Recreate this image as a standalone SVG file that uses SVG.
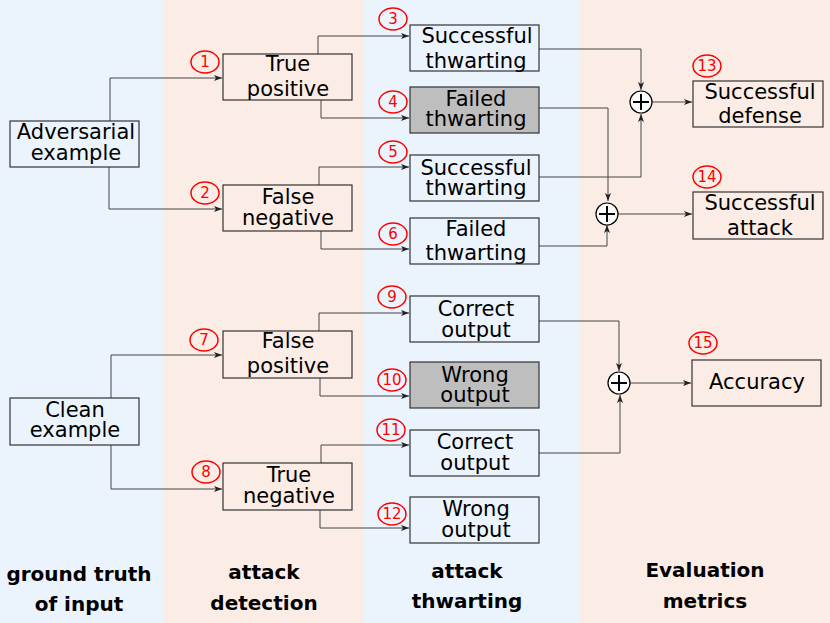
<svg xmlns="http://www.w3.org/2000/svg" width="830" height="623" viewBox="0 0 830 623">
<style>
.bgb{fill:#ebf4fc}
.bgp{fill:#fbede5}
.box{fill:none;stroke:#333;stroke-width:1.2}
.gray{fill:#bebebe;stroke:#333;stroke-width:1.2}
.t{font-family:"DejaVu Sans",sans-serif;font-size:21px;fill:#000;text-anchor:middle}
.n{font-family:"DejaVu Sans",sans-serif;font-size:15px;fill:#f00;text-anchor:middle}
.nc{fill:none;stroke:#f00;stroke-width:1.5}
.c{fill:none;stroke:#444;stroke-width:1}
.plus{fill:#fff;stroke:#000;stroke-width:1.2}
.pl{stroke:#000;stroke-width:2}
.h{font-family:"DejaVu Sans",sans-serif;font-size:20px;font-weight:bold;fill:#000;text-anchor:middle}
</style>
<defs>
<marker id="ar" markerWidth="9" markerHeight="6" refX="8" refY="3" orient="auto" markerUnits="userSpaceOnUse">
<path d="M0,0 L8,3 L0,6 L2,3 z" fill="#222"/>
</marker>
</defs>
<g id="background">
<rect class="bgb" x="0" y="0" width="164" height="623"/>
<rect class="bgp" x="164" y="0" width="200" height="623"/>
<rect class="bgb" x="364" y="0" width="216" height="623"/>
<rect class="bgp" x="580" y="0" width="250" height="623"/>
</g>
<g id="connectors">
<polyline class="c" points="110,121 110,78 222,78" marker-end="url(#ar)"/>
<polyline class="c" points="109,167 109,209 222,209" marker-end="url(#ar)"/>
<polyline class="c" points="318,54 318,36 409,36" marker-end="url(#ar)"/>
<polyline class="c" points="321,100 321,118 409,118" marker-end="url(#ar)"/>
<polyline class="c" points="319,185 319,167 409,167" marker-end="url(#ar)"/>
<polyline class="c" points="321,231 321,249 409,249" marker-end="url(#ar)"/>
<polyline class="c" points="539,49 641,49 641,90" marker-end="url(#ar)"/>
<polyline class="c" points="539,108 608,108 608,201" marker-end="url(#ar)"/>
<polyline class="c" points="539,177 641,177 641,114" marker-end="url(#ar)"/>
<polyline class="c" points="539,246 607,246 607,225" marker-end="url(#ar)"/>
<polyline class="c" points="652,102 692,102" marker-end="url(#ar)"/>
<polyline class="c" points="618,214 692,214" marker-end="url(#ar)"/>
<polyline class="c" points="111,398 111,355 222,355" marker-end="url(#ar)"/>
<polyline class="c" points="111,445 111,489 222,489" marker-end="url(#ar)"/>
<polyline class="c" points="319,331 319,313 409,313" marker-end="url(#ar)"/>
<polyline class="c" points="320,378 320,396 409,396" marker-end="url(#ar)"/>
<polyline class="c" points="321,463 321,445 409,445" marker-end="url(#ar)"/>
<polyline class="c" points="320,510 320,528 409,528" marker-end="url(#ar)"/>
<polyline class="c" points="539,321 619,321 619,371" marker-end="url(#ar)"/>
<polyline class="c" points="539,453 620,453 620,395" marker-end="url(#ar)"/>
<polyline class="c" points="630,383 691,383" marker-end="url(#ar)"/>
</g>
<g id="adversarial">
<rect class="box" x="10" y="121" width="129" height="46"/>
<text class="t" x="76" y="139">Adversarial</text>
<text class="t" x="76" y="160">example</text>
</g>
<g id="clean">
<rect class="box" x="10" y="398" width="129" height="47"/>
<text class="t" x="75" y="417">Clean</text>
<text class="t" x="75" y="437">example</text>
</g>
<g id="n1">
<ellipse class="nc" cx="205" cy="62" rx="14" ry="11"/>
<text class="n" x="205" y="67">1</text>
<rect class="box" x="223" y="54" width="129" height="46"/>
<text class="t" x="288" y="71">True</text>
<text class="t" x="288" y="96">positive</text>
</g>
<g id="n2">
<ellipse class="nc" cx="205" cy="193" rx="14" ry="11"/>
<text class="n" x="205" y="198">2</text>
<rect class="box" x="223" y="185" width="129" height="46"/>
<text class="t" x="288" y="204">False</text>
<text class="t" x="288" y="225">negative</text>
</g>
<g id="n7">
<ellipse class="nc" cx="204" cy="340" rx="14" ry="11"/>
<text class="n" x="204" y="345">7</text>
<rect class="box" x="223" y="331" width="129" height="47"/>
<text class="t" x="288" y="348">False</text>
<text class="t" x="288" y="373">positive</text>
</g>
<g id="n8">
<ellipse class="nc" cx="206" cy="472" rx="14" ry="11"/>
<text class="n" x="206" y="477">8</text>
<rect class="box" x="223" y="463" width="129" height="47"/>
<text class="t" x="289" y="482">True</text>
<text class="t" x="289" y="503">negative</text>
</g>
<g id="n3">
<ellipse class="nc" cx="393" cy="19" rx="14" ry="11"/>
<text class="n" x="393" y="24">3</text>
<rect class="box" x="410" y="25" width="129" height="46"/>
<text class="t" x="477" y="43">Successful</text>
<text class="t" x="476" y="68">thwarting</text>
</g>
<g id="n4">
<ellipse class="nc" cx="393" cy="102" rx="14" ry="11"/>
<text class="n" x="393" y="107">4</text>
<rect class="gray" x="410" y="87" width="129" height="46"/>
<text class="t" x="476" y="106">Failed</text>
<text class="t" x="476" y="126">thwarting</text>
</g>
<g id="n5">
<ellipse class="nc" cx="393" cy="152" rx="14" ry="11"/>
<text class="n" x="393" y="157">5</text>
<rect class="box" x="410" y="155" width="129" height="46"/>
<text class="t" x="476" y="175">Successful</text>
<text class="t" x="476" y="195">thwarting</text>
</g>
<g id="n6">
<ellipse class="nc" cx="393" cy="234" rx="14" ry="11"/>
<text class="n" x="393" y="239">6</text>
<rect class="box" x="410" y="218" width="129" height="46"/>
<text class="t" x="476" y="236">Failed</text>
<text class="t" x="476" y="260">thwarting</text>
</g>
<g id="n9">
<ellipse class="nc" cx="392" cy="297" rx="14" ry="11"/>
<text class="n" x="392" y="302">9</text>
<rect class="box" x="410" y="296" width="129" height="46"/>
<text class="t" x="476" y="316">Correct</text>
<text class="t" x="476" y="337">output</text>
</g>
<g id="n10">
<ellipse class="nc" cx="392" cy="380" rx="14" ry="11"/>
<text class="n" x="392" y="385">10</text>
<rect class="gray" x="410" y="362" width="129" height="46"/>
<text class="t" x="475" y="382">Wrong</text>
<text class="t" x="475" y="402">output</text>
</g>
<g id="n11">
<ellipse class="nc" cx="391" cy="430" rx="14" ry="11"/>
<text class="n" x="391" y="435">11</text>
<rect class="box" x="410" y="430" width="129" height="46"/>
<text class="t" x="475" y="449">Correct</text>
<text class="t" x="475" y="470">output</text>
</g>
<g id="n12">
<ellipse class="nc" cx="392" cy="514" rx="14" ry="11"/>
<text class="n" x="392" y="519">12</text>
<rect class="box" x="410" y="497" width="129" height="46"/>
<text class="t" x="476" y="516">Wrong</text>
<text class="t" x="476" y="537">output</text>
</g>
<g id="sum1">
<circle class="plus" cx="641" cy="102" r="11"/>
<path class="pl" d="M633,102 H649 M641,94 V110"/>
</g>
<g id="sum2">
<circle class="plus" cx="607" cy="214" r="11"/>
<path class="pl" d="M599,214 H615 M607,206 V222"/>
</g>
<g id="sum3">
<circle class="plus" cx="619" cy="383" r="11"/>
<path class="pl" d="M611,383 H627 M619,375 V391"/>
</g>
<g id="n13">
<ellipse class="nc" cx="707" cy="66" rx="14" ry="11"/>
<text class="n" x="707" y="71">13</text>
<rect class="box" x="693" y="81" width="130" height="46"/>
<text class="t" x="760" y="99">Successful</text>
<text class="t" x="760" y="123">defense</text>
</g>
<g id="n14">
<ellipse class="nc" cx="707" cy="177" rx="14" ry="11"/>
<text class="n" x="707" y="182">14</text>
<rect class="box" x="693" y="192" width="130" height="47"/>
<text class="t" x="760" y="210">Successful</text>
<text class="t" x="760" y="235">attack</text>
</g>
<g id="n15">
<ellipse class="nc" cx="703" cy="343" rx="14" ry="11"/>
<text class="n" x="703" y="348">15</text>
<rect class="box" x="692" y="360" width="129" height="46"/>
<text class="t" x="757" y="389">Accuracy</text>
</g>
<g id="headers">
<text class="h" x="79" y="581">ground truth</text>
<text class="h" x="79" y="611">of input</text>
<text class="h" x="264" y="579">attack</text>
<text class="h" x="264" y="610">detection</text>
<text class="h" x="467" y="578">attack</text>
<text class="h" x="467" y="608">thwarting</text>
<text class="h" x="705" y="577">Evaluation</text>
<text class="h" x="705" y="608">metrics</text>
</g>
</svg>
